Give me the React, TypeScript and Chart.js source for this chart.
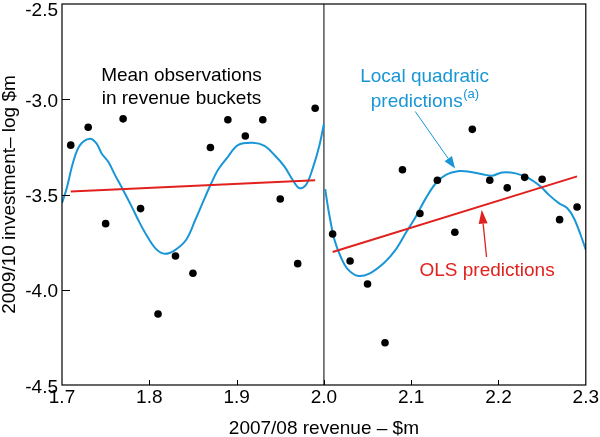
import React, { useEffect, useRef } from "react";
import { Chart, registerables } from "chart.js";

Chart.register(...registerables);

const FONT = '"Liberation Sans", Arial, Helvetica, sans-serif';
const BLUE = "#1896d6";
const RED = "#e0211d";

// Mean observations in revenue buckets
const obsX = [1.71, 1.73, 1.75, 1.77, 1.79, 1.81, 1.83, 1.85, 1.87, 1.89, 1.91, 1.93, 1.95, 1.97, 1.99,
  2.01, 2.03, 2.05, 2.07, 2.09, 2.11, 2.13, 2.15, 2.17, 2.19, 2.21, 2.23, 2.25, 2.27, 2.29];
const obsY = [-3.241, -3.147, -3.653, -3.103, -3.574, -4.127, -3.823, -3.913, -3.253, -3.108, -3.193, -3.108, -3.524, -3.863, -3.047,
  -3.707, -3.849, -3.970, -4.278, -3.370, -3.600, -3.425, -3.698, -3.158, -3.425, -3.465, -3.410, -3.420, -3.632, -3.566];

// Local quadratic predictions, left of threshold
const lqLeftX = [1.700, 1.7054, 1.7129, 1.7206, 1.732, 1.7397, 1.7454, 1.753, 1.7606, 1.770, 1.7797, 1.789, 1.7986, 1.8082, 1.8177,
  1.829, 1.8425, 1.853, 1.8634, 1.871, 1.8786, 1.890, 1.9015, 1.9186, 1.932, 1.9434, 1.9549, 1.9643, 1.972, 1.9796, 1.9872, 1.9949, 2.000];
const lqLeftY = [-3.545, -3.467, -3.328, -3.241, -3.207, -3.233, -3.285, -3.328, -3.397, -3.476, -3.5625, -3.649, -3.727, -3.788, -3.811,
  -3.793, -3.736, -3.63, -3.519, -3.441, -3.371, -3.302, -3.241, -3.229, -3.245, -3.293, -3.354, -3.424, -3.467, -3.449, -3.363, -3.241, -3.13];

// Local quadratic predictions, right of threshold
const lqRightX = [2.0015, 2.0055, 2.012, 2.0197, 2.0272, 2.0386, 2.052, 2.0691, 2.0825, 2.0939, 2.1054, 2.1168, 2.1282, 2.1397,
  2.1549, 2.1663, 2.1815, 2.193, 2.2043, 2.2197, 2.2349, 2.2482, 2.2577, 2.2691, 2.2786, 2.2863, 2.2939, 2.300];
const lqRightY = [-3.472, -3.589, -3.736, -3.832, -3.892, -3.927, -3.915, -3.858, -3.788, -3.701, -3.615, -3.519, -3.441, -3.397,
  -3.377, -3.380, -3.394, -3.401, -3.384, -3.389, -3.415, -3.458, -3.502, -3.545, -3.571, -3.623, -3.710, -3.79];

// OLS predictions
const olsLeftX = [1.71, 1.99];
const olsLeftY = [-3.484, -3.425];
const olsRightX = [2.01, 2.29];
const olsRightY = [-3.802, -3.405];

// Threshold
const thresholdX = [2.0, 2.0];
const thresholdY = [-4.5, -2.5];

// Axis ranges and ticks
const xMin = 1.7, xMax = 2.3, xStep = 0.1;
const yMin = -4.5, yMax = -2.5, yStep = 0.5;
const xTitle = "2007/08 revenue – $m";
const yTitle = "2009/10 investment– log $m";

const zip = (xs: number[], ys: number[]) => xs.map((x, i) => ({ x, y: ys[i] }));

// Annotation anchors (data coords)
const notes = [
  { x: 1.8368, y: -2.9036, color: "#000", lines: ["Mean observations", "in revenue buckets"], gap: 23.5 },
  { x: 2.1154, y: -2.9078, color: BLUE, lines: ["Local quadratic", "predictions"], sup: "(a)", gap: 25.5 },
  { x: 2.1869, y: -3.927, color: RED, lines: ["OLS predictions"], gap: 0 },
];
const arrows = [
  { x1: 2.1046, y1: -3.064, x2: 2.1503, y2: -3.363, color: BLUE, w: 1, hl: 12, hw: 4.5 },
  { x1: 2.1863, y1: -3.828, x2: 2.1808, y2: -3.580, color: RED, w: 1.3, hl: 14, hw: 4.5 },
];

function drawArrow(ctx: CanvasRenderingContext2D, x1: number, y1: number, x2: number, y2: number, color: string, w: number, hl: number, hw: number) {
  const ang = Math.atan2(y2 - y1, x2 - x1);
  const bx = x2 - hl * Math.cos(ang);
  const by = y2 - hl * Math.sin(ang);
  ctx.save();
  ctx.strokeStyle = color;
  ctx.fillStyle = color;
  ctx.lineWidth = w;
  ctx.beginPath();
  ctx.moveTo(x1, y1);
  ctx.lineTo(bx, by);
  ctx.stroke();
  ctx.beginPath();
  ctx.moveTo(x2, y2);
  ctx.lineTo(bx + hw * Math.sin(ang), by - hw * Math.cos(ang));
  ctx.lineTo(bx - hw * Math.sin(ang), by + hw * Math.cos(ang));
  ctx.closePath();
  ctx.fill();
  ctx.restore();
}

const overlay = {
  id: "overlay",
  afterDraw(chart: any) {
    const ctx: CanvasRenderingContext2D = chart.ctx;
    const xs = chart.scales.x;
    const ys = chart.scales.y;
    const { left, right, top, bottom } = chart.chartArea;
    ctx.save();
    // frame
    ctx.strokeStyle = "#000";
    ctx.lineWidth = 1.2;
    ctx.strokeRect(left, top, right - left, bottom - top);
    // inner ticks
    ctx.lineWidth = 1;
    xs.ticks.forEach((t: any) => {
      if (t.value <= xMin + 1e-9 || t.value >= xMax - 1e-9) return;
      const px = Math.round(xs.getPixelForValue(t.value)) + 0.5;
      ctx.beginPath();
      ctx.moveTo(px, bottom);
      ctx.lineTo(px, bottom - 5);
      ctx.stroke();
    });
    ys.ticks.forEach((t: any) => {
      const py = ys.getPixelForValue(t.value);
      if (t.value > yMin + 1e-9 && t.value < yMax - 1e-9) {
        const p = Math.round(py) + 0.5;
        ctx.beginPath();
        ctx.moveTo(left, p);
        ctx.lineTo(left + 8, p);
        ctx.stroke();
      }
      ctx.fillStyle = "#000";
      ctx.font = `19px ${FONT}`;
      ctx.textAlign = "right";
      ctx.textBaseline = "middle";
      ctx.fillText(Number(t.value).toFixed(1), left - 4, Math.max(py + 2.5, 11));
    });
    // annotations
    notes.forEach((n) => {
      const cx = xs.getPixelForValue(n.x);
      const by = ys.getPixelForValue(n.y);
      ctx.fillStyle = n.color;
      ctx.textBaseline = "alphabetic";
      n.lines.forEach((line, i) => {
        const yy = by + i * n.gap;
        const isLast = i === n.lines.length - 1;
        if (isLast && n.sup) {
          ctx.font = `19px ${FONT}`;
          const w1 = ctx.measureText(line).width;
          ctx.font = `13px ${FONT}`;
          const w2 = ctx.measureText(n.sup).width;
          const start = cx - (w1 + w2) / 2;
          ctx.textAlign = "left";
          ctx.font = `19px ${FONT}`;
          ctx.fillText(line, start, yy);
          ctx.font = `13px ${FONT}`;
          ctx.fillText(n.sup, start + w1 + 0.5, yy - 9);
        } else {
          ctx.font = `19px ${FONT}`;
          ctx.textAlign = "center";
          ctx.fillText(line, cx, yy);
        }
      });
    });
    arrows.forEach((a) => {
      drawArrow(ctx, xs.getPixelForValue(a.x1), ys.getPixelForValue(a.y1), xs.getPixelForValue(a.x2), ys.getPixelForValue(a.y2), a.color, a.w, a.hl, a.hw);
    });
    ctx.restore();
  },
};

export default function App() {
  const ref = useRef<HTMLCanvasElement>(null);
  useEffect(() => {
    document.body.style.margin = "0";
    const canvas = ref.current!;
    const chart = new Chart(canvas, {
      type: "scatter",
      data: {
        datasets: [
          {
            data: zip(obsX, obsY),
            backgroundColor: "#000",
            borderColor: "#000",
            pointRadius: 3.8,
            pointBorderWidth: 0,
            showLine: false,
          },
          { data: zip(olsLeftX, olsLeftY), showLine: true, borderColor: RED, borderWidth: 2, pointRadius: 0 },
          { data: zip(olsRightX, olsRightY), showLine: true, borderColor: RED, borderWidth: 2, pointRadius: 0 },
          { data: zip(lqLeftX, lqLeftY), showLine: true, borderColor: BLUE, borderWidth: 2, pointRadius: 0, tension: 0.35 },
          { data: zip(lqRightX, lqRightY), showLine: true, borderColor: BLUE, borderWidth: 2, pointRadius: 0, tension: 0.35 },
          { data: zip(thresholdX, thresholdY), showLine: true, borderColor: "#555", borderWidth: 1.5, pointRadius: 0 },
        ],
      } as any,
      options: {
        animation: false,
        responsive: false,
        maintainAspectRatio: false,
        devicePixelRatio: 1,
        layout: { padding: { top: 1, right: 13, left: 0, bottom: 0 } },
        plugins: { legend: { display: false }, tooltip: { enabled: false } },
        scales: {
          x: {
            type: "linear",
            min: xMin,
            max: xMax,
            afterFit: (s: any) => { s.height = 52; },
            grid: { display: false, drawTicks: false },
            border: { display: false },
            ticks: {
              stepSize: xStep,
              autoSkip: false,
              maxRotation: 0,
              padding: 1,
              color: "#000",
              font: { family: FONT, size: 19 },
              callback: (v: any) => Number(v).toFixed(1),
            },
            title: {
              display: true,
              text: xTitle,
              color: "#000",
              font: { family: FONT, size: 19, lineHeight: 1 },
              padding: { top: 0, bottom: -1 },
            },
          },
          y: {
            type: "linear",
            min: yMin,
            max: yMax,
            afterFit: (s: any) => { s.width = 62; },
            grid: { display: false, drawTicks: false },
            border: { display: false },
            ticks: { stepSize: yStep, display: false },
            title: {
              display: true,
              text: yTitle,
              color: "#000",
              font: { family: FONT, size: 19, lineHeight: 1 },
              padding: { top: 0, bottom: 0 },
            },
          },
        },
      } as any,
      plugins: [overlay],
    });
    return () => chart.destroy();
  }, []);
  return <canvas ref={ref} width={600} height={437} style={{ display: "block", width: 600, height: 437 }} />;
}
